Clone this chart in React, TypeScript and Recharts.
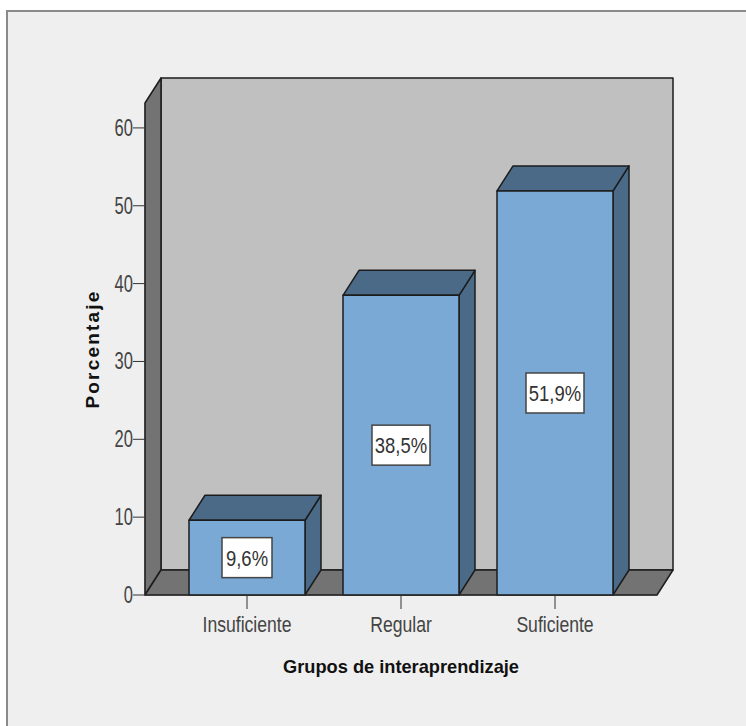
import { BarChart, Bar, XAxis, YAxis, ReferenceArea, LabelList } from 'recharts'

const categories = ['Insuficiente', 'Regular', 'Suficiente']
const percentages = [9.6, 38.5, 51.9]
const yTicks = [0, 10, 20, 30, 40, 50, 60]
const yTop = 63.2

const chartData = categories.map((grupo, i) => ({ grupo, porcentaje: percentages[i] }))

const DEPTH_X = 16
const DEPTH_Y = 25
const AXIS_PAD = 25
const LINE = '#1c1c1c'
const FONT = '"Liberation Sans", sans-serif'

// the reference is a stretched SPSS image, so text is squeezed horizontally
function NarrowText({ x, y, size = 22, sx = 0.8, anchor = 'middle', fill = '#444', children }: any) {
  return (
    <text transform={`translate(${x},${y}) scale(${sx},1)`} textAnchor={anchor} fontSize={size} fontFamily={FONT} fill={fill}>
      {children}
    </text>
  )
}

function XTick({ x, y, payload }: any) {
  return <NarrowText x={x} y={y + 21}>{payload.value}</NarrowText>
}

function YTick({ x, y, payload }: any) {
  return <NarrowText x={x + 2} y={y + 8} size={23} sx={0.72} anchor="end">{payload.value}</NarrowText>
}

function XTitle({ viewBox }: any) {
  return (
    <text transform={`translate(${viewBox.x + viewBox.width / 2},673) scale(0.96,1)`} textAnchor="middle" fontSize={19} fontWeight={700} fontFamily={FONT} fill="#111">
      Grupos de interaprendizaje
    </text>
  )
}

function YTitle({ viewBox }: any) {
  return (
    <text transform={`translate(99,${viewBox.y + viewBox.height / 2}) rotate(-90)`} textAnchor="middle" fontSize={19} fontWeight={700} letterSpacing={2.2} fontFamily={FONT} fill="#111">
      Porcentaje
    </text>
  )
}

// back wall, side wall and floor of the 3D box; the area comes in without the axis padding
function Walls({ x: innerX, y, width: innerW, height }: any) {
  const x = innerX - AXIS_PAD
  const right = innerX + innerW + AXIS_PAD
  const bottom = y + height
  return (
    <g stroke={LINE} strokeWidth={1.5} strokeLinejoin="round">
      <polygon points={`${x + DEPTH_X},${y - DEPTH_Y} ${right + DEPTH_X},${y - DEPTH_Y} ${right + DEPTH_X},${bottom - DEPTH_Y} ${x + DEPTH_X},${bottom - DEPTH_Y}`} fill="#c0c0c0" />
      <polygon points={`${x},${y} ${x + DEPTH_X},${y - DEPTH_Y} ${x + DEPTH_X},${bottom - DEPTH_Y} ${x},${bottom}`} fill="#737373" />
      <polygon points={`${x},${bottom} ${x + DEPTH_X},${bottom - DEPTH_Y} ${right + DEPTH_X},${bottom - DEPTH_Y} ${right},${bottom}`} fill="#737373" />
    </g>
  )
}

function Box3D({ x, y, width, height }: any) {
  const right = x + width
  const bottom = y + height
  return (
    <g stroke={LINE} strokeWidth={1.5} strokeLinejoin="round">
      <polygon points={`${right},${y} ${right + DEPTH_X},${y - DEPTH_Y} ${right + DEPTH_X},${bottom - DEPTH_Y} ${right},${bottom}`} fill="#4a6a87" />
      <polygon points={`${x},${y} ${x + DEPTH_X},${y - DEPTH_Y} ${right + DEPTH_X},${y - DEPTH_Y} ${right},${y}`} fill="#4a6a87" />
      <rect x={x} y={y} width={width} height={height} fill="#7ba9d6" />
    </g>
  )
}

function ValueTag({ x, y, width, height, value }: any) {
  const cx = x + width / 2
  const cy = y + height / 2
  const text = value.toFixed(1).replace('.', ',') + '%'
  const boxW = text.length * 8 + 18
  return (
    <g>
      <rect x={cx - boxW / 2} y={cy - 20} width={boxW} height={40} fill="#fff" stroke="#444" strokeWidth={1.5} />
      <NarrowText x={cx} y={cy + 8} sx={0.84} fill="#333">{text}</NarrowText>
    </g>
  )
}

export default function App() {
  return (
    <div style={{ position: 'absolute', left: 0, top: 0, width: 746, height: 726, background: '#fff' }}>
      <div style={{ position: 'absolute', left: 6, top: 10, width: 740, height: 716, background: '#efefef', borderLeft: '2px solid #8a8a8a', borderTop: '2px solid #8a8a8a', boxSizing: 'border-box' }} />
      <div style={{ position: 'absolute', left: 0, top: 0 }}>
        <BarChart
          width={746}
          height={726}
          data={chartData}
          margin={{ top: 103, right: 89, bottom: 71, left: 85 }}
          barSize={116}
        >
          <XAxis
            dataKey="grupo"
            height={60}
            padding={{ left: AXIS_PAD, right: AXIS_PAD }}
            stroke="#333"
            tickSize={14}
            tick={XTick}
            label={XTitle}
          />
          <YAxis
            type="number"
            domain={[0, yTop]}
            ticks={yTicks}
            width={60}
            stroke="#333"
            tickSize={12}
            tick={YTick}
            label={YTitle}
          />
          <ReferenceArea y1={0} y2={yTop} shape={Walls} ifOverflow="visible" />
          <Bar dataKey="porcentaje" shape={Box3D} isAnimationActive={false}>
            <LabelList dataKey="porcentaje" content={ValueTag} />
          </Bar>
        </BarChart>
      </div>
    </div>
  )
}
